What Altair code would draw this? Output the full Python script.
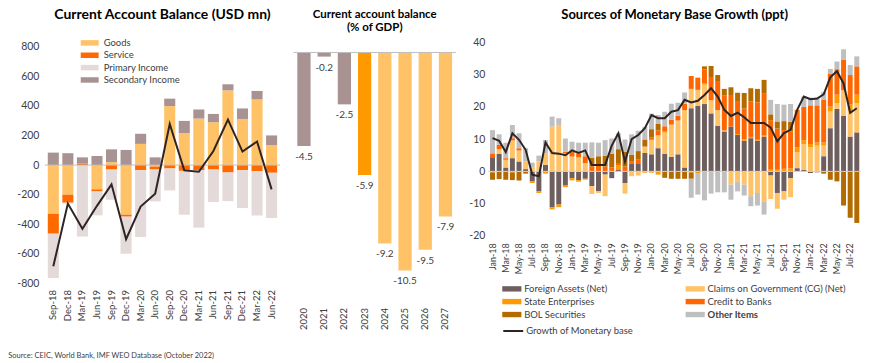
import altair as alt
import pandas as pd

FONT = "Lato"
TXT = "#404040"
RECT1 = "M-1.8,-0.55H1.8V0.55H-1.8Z"
RECT3 = "M-1.6,-0.45H1.6V0.45H-1.6Z"

# ---------------- Panel 1: Current Account Balance (USD mn) ----------------
quarters = ["Sep-18", "Dec-18", "Mar-19", "Jun-19", "Sep-19", "Dec-19", "Mar-20", "Jun-20",
            "Sep-20", "Dec-20", "Mar-21", "Jun-21", "Sep-21", "Dec-21", "Mar-22", "Jun-22"]
goods = [-328, -200, 0, -164, 20, -335, 143, -10, 398, 216, 314, 289, 504, 311, 443, 134]
service = [-135, -54, 10, -14, -30, -13, -34, -20, -23, -39, -34, -30, -50, -34, -41, -52]
primary_income = [-299, -5, -482, -161, -204, -250, -451, -215, -148, -296, -388, -219, -193, -256, -299, -305]
secondary_income = [84, 80, 42, 61, 86, 102, 68, 52, 50, 82, 61, 56, 41, 71, 57, 66]
ca_balance = [-683, -260, -430, -275, -130, -500, -280, -193, 277, -36, -45, 95, 307, 91, 159, -164]
ca_components = ["Goods", "Service", "Primary Income", "Secondary Income"]
ca_colors = ["#FFC266", "#FF6A00", "#E4DADA", "#A89292"]
ca_ticks = [-800, -600, -400, -200, 0, 200, 400, 600, 800]

# ---------------- Panel 2: Current account balance (% of GDP) ----------------
years = ["2020", "2021", "2022", "2023", "2024", "2025", "2026", "2027"]
ca_pct_gdp = [-4.5, -0.2, -2.5, -5.9, -9.2, -10.5, -9.5, -7.9]
ca_pct_text = ["-4.5", "-0.2", "-2.5", "-5.9", "-9.2", "-10.5", "-9.5", "-7.9"]
ca_pct_kind = ["Actual", "Actual", "Actual", "Estimate", "Projection", "Projection", "Projection", "Projection"]

# ---------------- Panel 3: Sources of Monetary Base Growth (ppt) ----------------
months = ["Jan-18", "Feb-18", "Mar-18", "Apr-18", "May-18", "Jun-18", "Jul-18", "Aug-18", "Sep-18", "Oct-18", "Nov-18", "Dec-18",
          "Jan-19", "Feb-19", "Mar-19", "Apr-19", "May-19", "Jun-19", "Jul-19", "Aug-19", "Sep-19", "Oct-19", "Nov-19", "Dec-19",
          "Jan-20", "Feb-20", "Mar-20", "Apr-20", "May-20", "Jun-20", "Jul-20", "Aug-20", "Sep-20", "Oct-20", "Nov-20", "Dec-20",
          "Jan-21", "Feb-21", "Mar-21", "Apr-21", "May-21", "Jun-21", "Jul-21", "Aug-21", "Sep-21", "Oct-21", "Nov-21", "Dec-21",
          "Jan-22", "Feb-22", "Mar-22", "Apr-22", "May-22", "Jun-22", "Jul-22", "Aug-22"]
foreign_assets = [4.4, 5.5, 1.2, 4.1, 3.1, 0.7, -3.1, -6.2, 2.0, -11.1, -10.3, -4.4,
                  -2.1, -2.7, -2.2, -4.6, -6.2, -1.0, -2.1, 0.6, -3.6, 2.5, 2.3, 5.7,
                  5.3, 7.2, 5.5, 4.5, 5.3, 1.2, 19.6, 20.3, 20.9, 18.0, 14.1, 12.4,
                  13.9, 11.3, 9.5, 10.3, 9.5, 10.8, -1.3, -6.7, -6.2, -2.1, 1.0, 0.5,
                  -0.5, -0.3, 4.7, 13.4, 19.4, 17.3, 10.8, 12.1]
claims_gov = [0.0, 1.4, 2.4, 5.5, 3.4, 2.4, 1.3, 3.1, 3.6, 13.9, 14.4, 5.6,
              4.6, 4.4, 2.6, -2.4, -0.5, -6.7, 0.0, 0.0, -3.3, -1.5, -1.3, 2.0,
              4.5, 4.0, 6.5, 10.0, 10.5, 17.8, 6.0, 5.0, 6.0, 4.1, 4.9, 0.3,
              -4.1, -3.1, -4.1, -7.7, -6.7, -9.3, -7.3, -4.9, -2.6, -5.9, 5.0, 8.0,
              7.5, 8.0, 3.3, 5.2, 1.8, 7.9, 8.0, 9.1]
state_ent = [-0.3, 0.0, 0.0, -0.3, 0.0, 0.0, -0.5, -0.5, -0.7, -0.7, -0.8, -0.5,
             -0.7, -0.5, 0.0, 0.0, 0.0, 0.0, 0.0, 1.2, 0.0, 0.0, 0.0, -0.4,
             -0.4, -1.0, 0.5, 0.0, 0.0, 0.0, -0.3, -0.5, 0.5, 0.0, 0.0, 0.0,
             0.0, 0.3, 0.4, 0.4, 0.3, 0.3, 0.5, 0.5, 0.8, 0.9, 1.5, 1.2,
             1.0, 1.0, 1.0, 1.5, 2.6, 0.0, 2.0, 2.6]
credit_banks = [1.2, 1.3, 0.5, 0.7, 0.7, 0.0, 0.0, 0.0, 0.0, 0.0, 0.0, 0.5,
                1.5, 1.2, 2.1, 1.6, 1.7, 1.5, 1.2, 0.8, 1.5, 0.5, 1.5, 0.0,
                0.8, 1.5, 1.5, 1.5, 1.5, 2.0, 4.0, 3.8, 4.2, 7.2, 8.8, 10.8,
                9.8, 10.0, 9.6, 11.0, 11.6, 13.0, 15.4, 12.8, 12.0, 11.5, 11.6, 10.3,
                12.0, 11.5, 13.3, 10.3, 7.9, 9.5, 9.1, 8.8]
bol_securities = [-2.3, -2.4, -2.6, -2.4, -2.8, -0.7, 0.0, 0.0, 0.0, 0.0, 0.0, 0.0,
                  0.0, 0.0, -0.3, 2.6, 3.0, 3.3, 4.3, 4.3, 4.6, 2.2, 2.5, 2.2,
                  2.5, 2.0, -2.0, -2.3, -2.3, -2.3, -2.0, 0.0, 1.0, 3.4, 2.1, 2.1,
                  2.4, 2.8, 4.8, 4.1, 4.2, 4.3, 1.8, 2.2, 2.8, 3.0, 0.0, 0.0,
                  0.0, 0.0, -0.7, -2.6, -3.1, -10.6, -14.4, -16.0]
other_items = [7.2, 3.3, 4.8, 4.1, 4.6, 4.1, 1.4, 1.8, 4.1, 3.1, 2.1, 4.1,
               3.1, 3.3, 4.2, 4.8, 4.2, 4.9, 4.7, 4.9, 3.8, 6.3, 6.3, 3.9,
               4.8, 2.8, 4.5, 5.0, 4.0, 3.5, -5.9, -6.7, -9.0, -6.9, -6.5, -6.5,
               -4.7, -3.1, -3.4, -3.1, -3.9, -4.1, 4.5, 5.4, 5.1, 5.5, 0.0, 3.2,
               2.4, 2.4, 2.3, 1.4, 2.4, 3.2, 3.1, 3.1]
mb_growth = [10.3, 9.5, 6.0, 11.8, 9.8, 6.7, -1.0, -1.5, 9.0, 5.7, 5.5, 5.0,
             6.5, 5.7, 6.5, 2.0, 2.0, 2.0, 8.0, 11.8, 3.0, 10.0, 11.3, 13.4,
             17.5, 16.5, 16.5, 18.5, 19.0, 22.2, 21.4, 21.9, 23.7, 25.8, 23.2, 19.1,
             17.2, 18.2, 16.8, 15.0, 15.0, 15.0, 13.6, 9.3, 11.9, 12.9, 19.1, 23.2,
             22.4, 22.6, 23.9, 29.2, 31.1, 27.3, 18.2, 19.6]
mb_components = ["Foreign Assets (Net)", "Claims on Government (CG) (Net)", "State Enterprises",
                 "Credit to Banks", "BOL Securities", "Other Items"]
mb_colors = ["#6E5E5E", "#FFC266", "#FF9900", "#FF6600", "#B36B00", "#BFBFBF"]
mb_ticks = [-20, -10, 0, 10, 20, 30, 40]
# legend fills column by column: list the entries so rows read FA|CG, SE|CB, BOL|Other
legend_order = [0, 2, 4, 1, 3, 5]

# ---------------- Build tables ----------------
rows1 = []
for i, q in enumerate(quarters):
    for k, arr in enumerate([goods, service, primary_income, secondary_income]):
        rows1.append({"quarter": q, "component": ca_components[k], "usd_mn": arr[i], "ord": k})
df1 = pd.DataFrame(rows1)
df1_line = pd.DataFrame({"quarter": quarters, "usd_mn": ca_balance})

df2 = pd.DataFrame({"year": years, "pct": ca_pct_gdp, "lab": ca_pct_text, "kind": ca_pct_kind})

rows3 = []
for i, m in enumerate(months):
    for k, arr in enumerate([foreign_assets, claims_gov, state_ent, credit_banks, bol_securities, other_items]):
        rows3.append({"month": m, "source": mb_components[k], "ppt": arr[i], "ord": k})
df3 = pd.DataFrame(rows3)
df3_line = pd.DataFrame({"month": months, "ppt": mb_growth, "series": ["Growth of Monetary base"] * len(months)})

zero1_df = pd.DataFrame({"usd_mn": [0]})
zero2_df = pd.DataFrame({"pct": [0.0]})
zero3_df = pd.DataFrame({"ppt": [0.0]})

# ---------------- Panel 1 ----------------
xs1 = alt.Scale(paddingInner=0.24, paddingOuter=0.2)
xa1 = alt.Axis(labelAngle=-90, domain=False, ticks=False, labelPadding=6, labelFontSize=9.5, labelColor=TXT)
ys1 = alt.Scale(domain=[-800, 826.9], nice=False)
ya1 = alt.Axis(values=ca_ticks, domain=False, ticks=False, grid=False, labelPadding=6, labelFontSize=10.5,
               labelColor=TXT, labelOverlap=False, labelExpr="'' + datum.value")
bars1 = alt.Chart(df1).mark_bar().encode(
    x=alt.X("quarter:N", sort=quarters, title=None, scale=xs1, axis=xa1),
    y=alt.Y("usd_mn:Q", title=None, stack="zero", scale=ys1, axis=ya1),
    color=alt.Color("component:N", scale=alt.Scale(domain=ca_components, range=ca_colors),
                    legend=alt.Legend(title=None, orient="none", legendX=40, legendY=-4.6, symbolType=RECT1,
                                      symbolSize=100, labelFontSize=9.5, labelColor=TXT, rowPadding=2.4,
                                      labelOffset=9, padding=0, symbolStrokeWidth=0)),
    order=alt.Order("ord:Q"))
zero1 = alt.Chart(zero1_df).mark_rule(color="#BFBFBF", strokeWidth=1).encode(
    y=alt.Y("usd_mn:Q", title=None, scale=ys1, axis=ya1))
line1 = alt.Chart(df1_line).mark_line(color="#2E2424", strokeWidth=2).encode(
    x=alt.X("quarter:N", sort=quarters, title=None, scale=xs1, axis=xa1),
    y=alt.Y("usd_mn:Q", title=None, scale=ys1, axis=ya1))
p1 = alt.layer(bars1, zero1, line1).properties(
    width=236, height=242,
    title=alt.TitleParams("Current Account Balance (USD mn)", fontSize=14, fontWeight="bold",
                          color="#000000", offset=16, font=FONT))

# ---------------- Panel 2 ----------------
xs2 = alt.Scale(paddingInner=0.345, paddingOuter=0.19)
xa2 = alt.Axis(labelAngle=-90, domain=False, ticks=False, labelPadding=6, labelFontSize=9.5, labelColor=TXT)
ys2 = alt.Scale(domain=[-12, 0.48], nice=False)
bars2 = alt.Chart(df2).mark_bar().encode(
    x=alt.X("year:N", title=None, scale=xs2, axis=xa2),
    y=alt.Y("pct:Q", title=None, scale=ys2, axis=None),
    color=alt.Color("kind:N", scale=alt.Scale(domain=["Actual", "Estimate", "Projection"],
                                              range=["#A89292", "#FF9900", "#FFC266"]), legend=None))
zero2 = alt.Chart(zero2_df).mark_rule(color="#BFBFBF", strokeWidth=1).encode(
    y=alt.Y("pct:Q", title=None, scale=ys2, axis=None))
text2 = alt.Chart(df2).mark_text(baseline="top", dy=6, fontSize=10, color=TXT).encode(
    x=alt.X("year:N", title=None, scale=xs2, axis=xa2),
    y=alt.Y("pct:Q", title=None, scale=ys2, axis=None),
    text=alt.Text("lab:N"))
p2 = alt.layer(bars2, zero2, text2).properties(
    width=163, height=260,
    title=alt.TitleParams(["Current account balance", "(% of GDP)"], fontSize=11.5, fontWeight="bold",
                          color="#000000", offset=8.9, lineHeight=13.5, font=FONT))

# ---------------- Panel 3 ----------------
xs3 = alt.Scale(paddingInner=0.25, paddingOuter=0.26)
xa3 = alt.Axis(values=months[::2], labelAngle=-90, domain=False, ticks=False, labelPadding=7,
               labelFontSize=9, labelColor=TXT, labelOverlap=False)
ys3 = alt.Scale(domain=[-20, 40], nice=False)
ya3 = alt.Axis(values=mb_ticks, domain=False, ticks=False, grid=False, labelPadding=3.5, labelFontSize=10.5,
               labelColor=TXT, labelOverlap=False, labelExpr="'' + datum.value")
bars3 = alt.Chart(df3).mark_bar().encode(
    x=alt.X("month:N", sort=months, title=None, scale=xs3, axis=xa3),
    y=alt.Y("ppt:Q", title=None, stack="zero", scale=ys3, axis=ya3),
    color=alt.Color("source:N",
                    scale=alt.Scale(domain=[mb_components[j] for j in legend_order],
                                    range=[mb_colors[j] for j in legend_order]),
                    legend=alt.Legend(title=None, orient="none", legendX=17.6, legendY=241, columns=2,
                                      columnPadding=77, symbolType=RECT3, symbolSize=144, labelFontSize=9.5,
                                      labelColor=TXT, rowPadding=2.0, labelOffset=6.4, padding=0,
                                      labelLimit=400, symbolStrokeWidth=0,
                                      labelFontWeight={"expr": "datum.label == 'Other Items' ? 'bold' : 'normal'"})),
    order=alt.Order("ord:Q"))
zero3 = alt.Chart(zero3_df).mark_rule(color="#D0D0D0", strokeWidth=1).encode(
    y=alt.Y("ppt:Q", title=None, scale=ys3, axis=ya3))
line3 = alt.Chart(df3_line).mark_line(strokeWidth=2).encode(
    x=alt.X("month:N", sort=months, title=None, scale=xs3, axis=xa3),
    y=alt.Y("ppt:Q", title=None, scale=ys3, axis=ya3),
    stroke=alt.Stroke("series:N", scale=alt.Scale(domain=["Growth of Monetary base"], range=["#2E2424"]),
                      legend=alt.Legend(title=None, orient="none", legendX=14, legendY=278.5, symbolType="stroke",
                                        symbolSize=400, symbolStrokeWidth=2, labelFontSize=9.5,
                                        labelColor=TXT, labelOffset=2, padding=0, labelLimit=400)))
p3 = alt.layer(bars3, zero3, line3).resolve_scale(color="independent", stroke="independent").properties(
    width=374, height=194,
    title=alt.TitleParams("Sources of Monetary Base Growth (ppt)", fontSize=13, fontWeight="bold",
                          color="#000000", offset=16, font=FONT))

chart = alt.hconcat(p1, p2, p3, spacing=11.5).resolve_scale(
    color="independent", x="independent", y="independent"
).properties(
    padding={"left": 0, "top": -1, "right": 0, "bottom": 0},
    title=alt.TitleParams("Source: CEIC, World Bank, IMF WEO Database (October 2022)", orient="bottom",
                          anchor="start", fontSize=7.5, fontWeight="normal", color=TXT, offset=16, dx=-8.5,
                          font=FONT)
).configure(font=FONT).configure_view(stroke=None)

chart.save("out.html", embed_options={"renderer": "svg", "actions": False})
